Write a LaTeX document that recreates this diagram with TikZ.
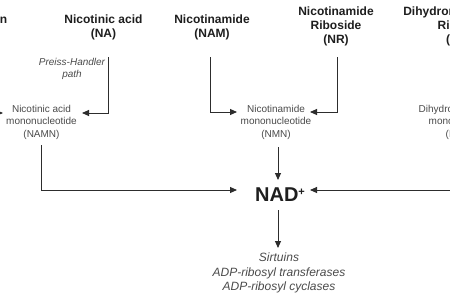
\documentclass[tikz,border=0pt]{standalone}
\usepackage{fontspec}
\setmainfont{Liberation Sans}
\usetikzlibrary{arrows.meta, positioning, calc}
\definecolor{nadline}{RGB}{45, 45, 45}
\definecolor{nadtext}{RGB}{30, 30, 30}
\definecolor{nadgray}{RGB}{75, 75, 75}

\begin{document}
\begin{tikzpicture}[
    x=1pt, y=-1pt,
    source/.style={align=center, inner sep=0pt, text=nadtext, font=\fontsize{12}{14}\selectfont\bfseries},
    product/.style={align=center, inner sep=0pt, text=nadgray, font=\fontsize{10}{12.5}\selectfont},
    pathname/.style={align=center, inner sep=0pt, text=nadgray, font=\fontsize{10}{12}\selectfont\itshape},
    arrow/.style={-{Triangle[length=7pt, width=6pt]}, line width=0.9pt, nadline}
]
\fill[white] (0,0) rectangle (450,300);
\clip (0,0) rectangle (450,300);

% Precursores (fila superior)
\node[source, anchor=east] (TRP) at (7.5,20) {Tryptophan};
\node[source] (NA) at (103.5,27) {Nicotinic acid\\(NA)};
\node[source] (NAM) at (212,27) {Nicotinamide\\(NAM)};
\node[source] (NR) at (336,26) {Nicotinamide\\Riboside\\(NR)};
\node[source] (NRH) at (463,26) {Dihydronicotinamide\\Riboside\\(NRH)};

% Mononucleotidos
\node[pathname] (PH) at (72,69) {Preiss-Handler\\path};
\node[product] (NAMN) at (41.5,122) {Nicotinic acid\\mononucleotide\\(NAMN)};
\node[product] (NMN) at (276,122) {Nicotinamide\\mononucleotide\\(NMN)};
\node[product] (NMNH) at (464,122) {Dihydronicotinamide\\mononucleotide\\(NMNH)};

% NAD+ y sus consumidores
\node[text=nadtext, inner sep=0pt, font=\fontsize{20}{24}\selectfont\bfseries] (NAD) at (280,195) {NAD\raisebox{6.5pt}{\fontsize{11}{11}\selectfont +}};
\node[pathname, font=\fontsize{12}{14.5}\selectfont\itshape] (EFF) at (279,273) {Sirtuins\\ADP-ribosyl transferases\\ADP-ribosyl cyclases};

% Flechas hacia los mononucleotidos
\draw[arrow] ($(TRP.east)+(-28,37)$) |- ($(NAMN)+(-38.5,-9)$);
\draw[arrow] ($(NA)+(4.5,30)$) |- ($(NAMN)+(40.5,-9)$);
\draw[arrow] ($(NAM)+(-2,30)$) |- ($(NMN)+(-39,-10)$);
\draw[arrow] ($(NR)+(1,31)$) |- ($(NMN)+(34,-10)$);

% Flechas hacia NAD+
\draw[arrow] ($(NAMN)+(-0.5,23)$) |- ($(NAD)+(-43,-5)$);
\draw[arrow] ($(NMN)+(2,25)$) -- ($(NAD)+(-2,-15)$);
\draw[arrow] ($(NMNH)+(0,25)$) |- ($(NAD)+(30,-5)$);

% Consumo de NAD+
\draw[arrow] ($(NAD)+(-2,15)$) -- ($(EFF)+(-1,-25)$);

\end{tikzpicture}
\end{document}
